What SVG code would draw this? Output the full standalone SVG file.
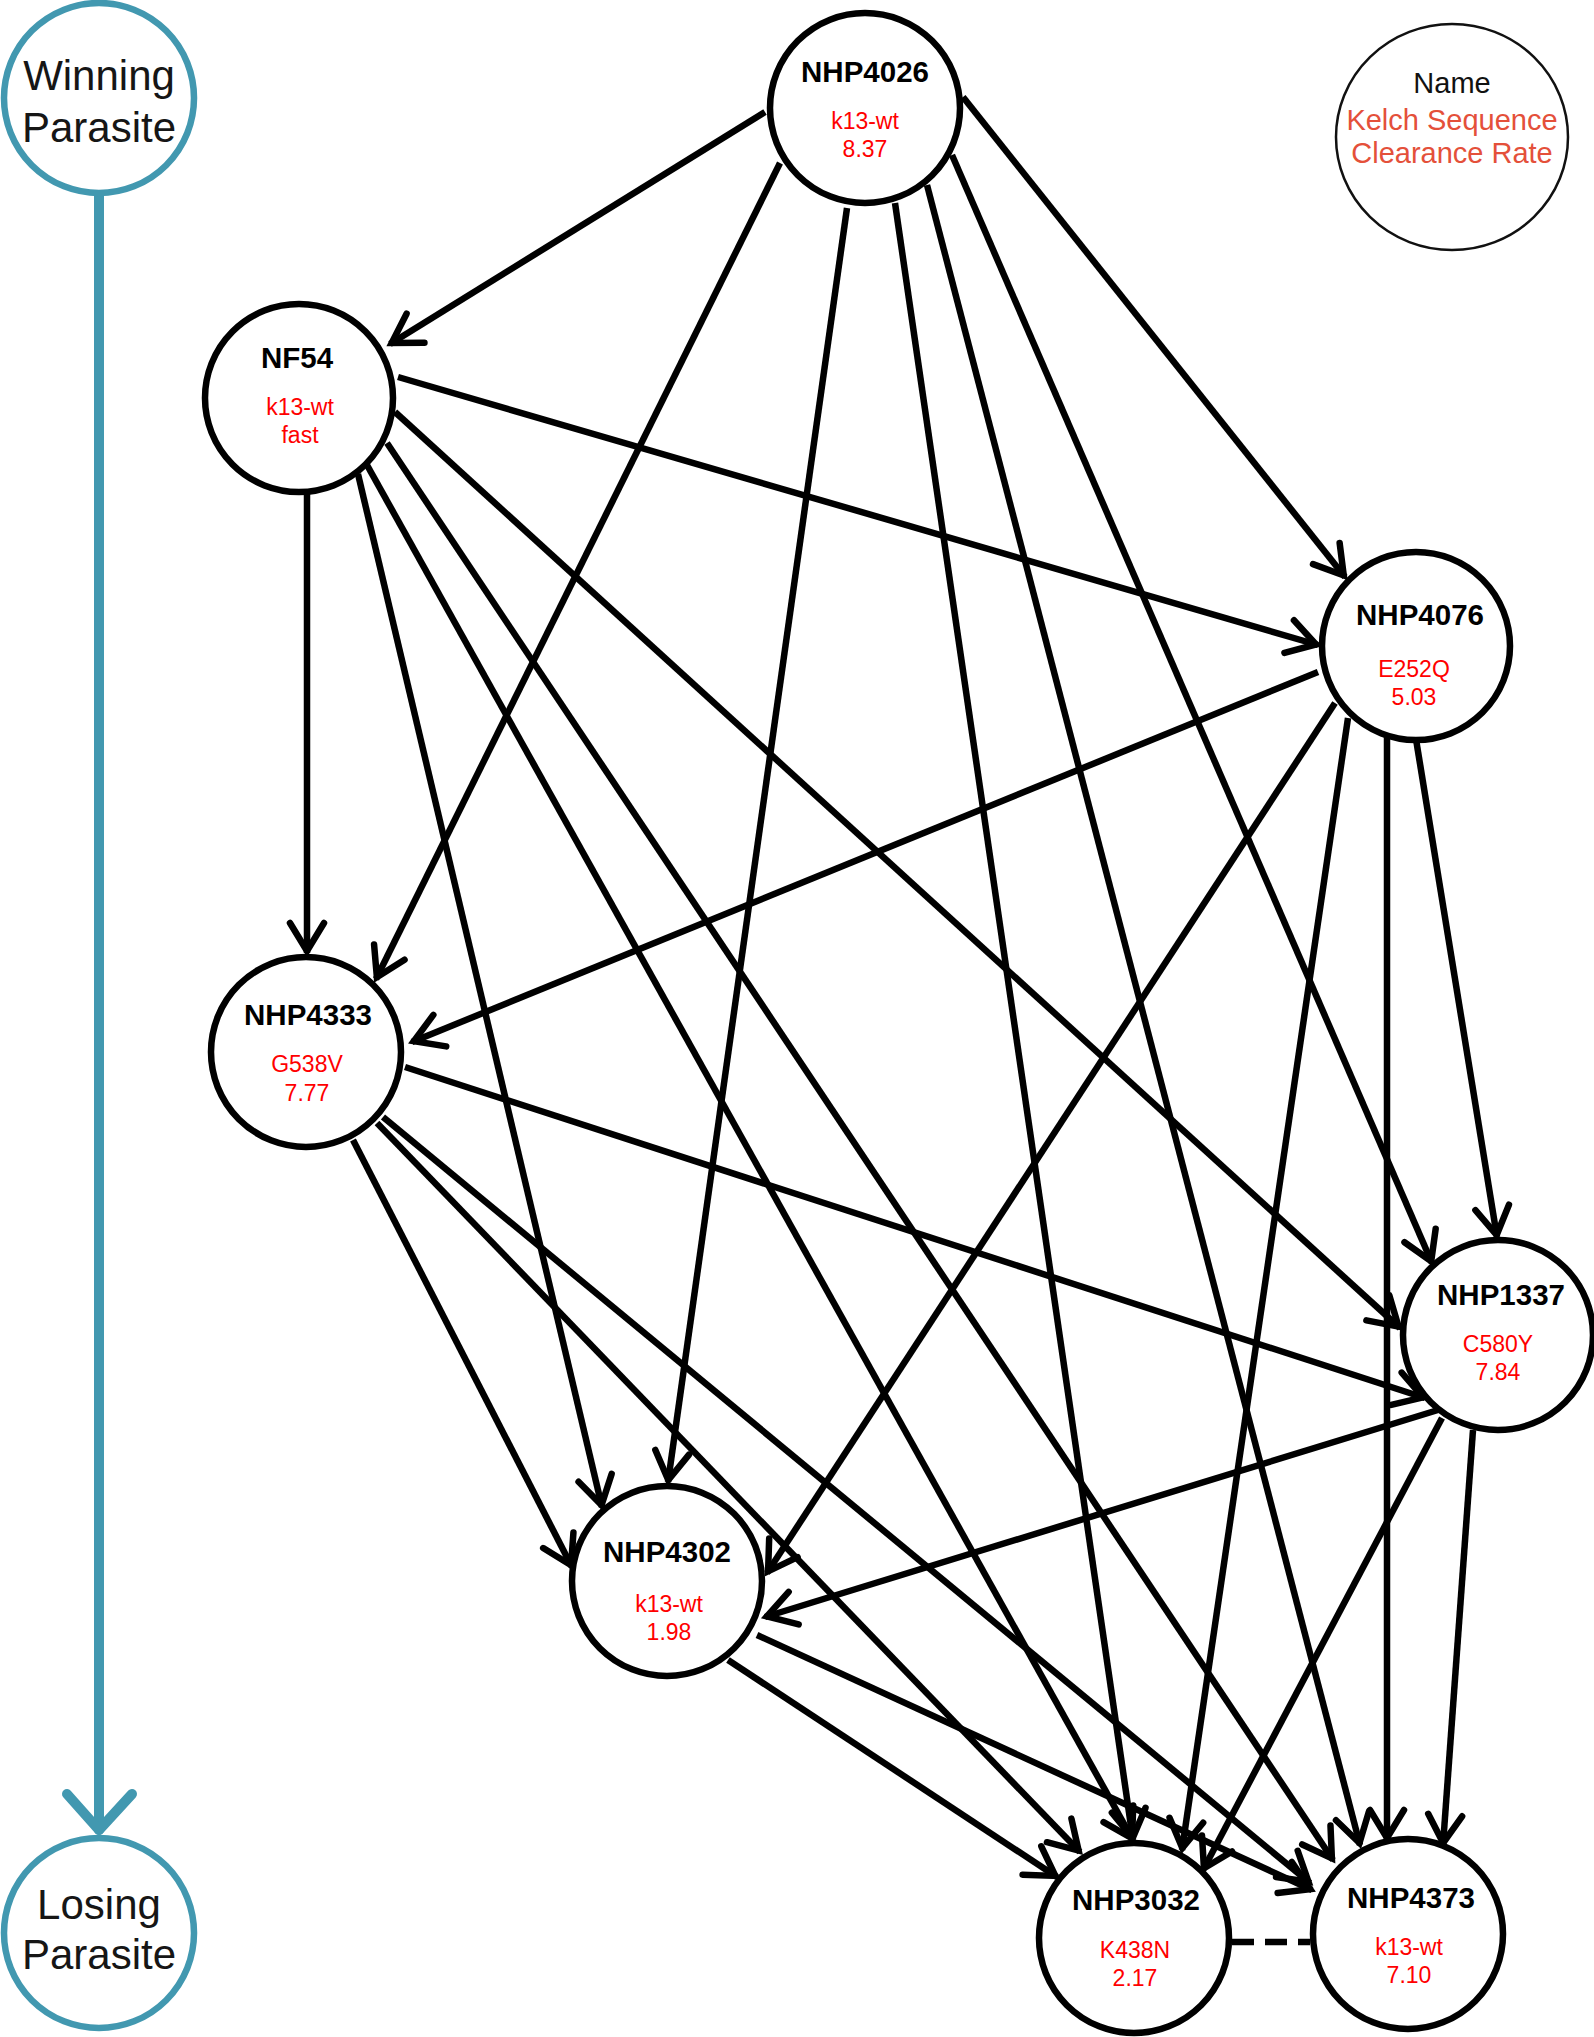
<svg xmlns="http://www.w3.org/2000/svg" width="1594" height="2037" viewBox="0 0 1594 2037">
<style>
.bg{fill:#ffffff}
.node{fill:#ffffff;stroke:#000000;stroke-width:6.5}
.tnode{fill:#ffffff;stroke:#4298b0;stroke-width:6.5}
.leg{fill:#ffffff;stroke:#111111;stroke-width:2.5}
.name{font-family:"Liberation Sans",Arial,sans-serif;font-weight:bold;font-size:29.5px;fill:#000000;text-anchor:middle}
.info{font-family:"Liberation Sans",Arial,sans-serif;font-size:23px;fill:#ff0000;text-anchor:middle}
.big{font-family:"Liberation Sans",Arial,sans-serif;font-size:42px;fill:#161616;text-anchor:middle}
.legn{font-family:"Liberation Sans",Arial,sans-serif;font-size:29px;fill:#111111;text-anchor:middle}
.legr{font-family:"Liberation Sans",Arial,sans-serif;font-size:29px;fill:#e4503a;text-anchor:middle}
.edge{stroke:#000000;stroke-width:6.5;fill:none;marker-end:url(#arr)}
.dash{stroke:#000000;stroke-width:6.5;fill:none;stroke-dasharray:22 11}
.teal{stroke:#4298b0;stroke-width:10;fill:none;stroke-linecap:round;stroke-linejoin:round}
</style>
<defs>
<marker id="arr" markerUnits="userSpaceOnUse" markerWidth="70" markerHeight="70" refX="0" refY="0" viewBox="-45 -35 70 70" orient="auto" overflow="visible">
<path d="M-30,-17 L-2,0 L-30,17" fill="none" stroke="#000000" stroke-width="6.5" stroke-linecap="round" stroke-linejoin="miter"/>
</marker>
</defs>
<rect class="bg" x="0" y="0" width="1594" height="2037"/>
<g id="scale">
<path class="teal" d="M99,196 L99,1830"/>
<path class="teal" d="M67,1794 L99,1830 L132,1794"/>
</g>
<g id="connectors">
<line class="edge" x1="765" y1="112" x2="390" y2="344"/>
<line class="edge" x1="780" y1="163" x2="376" y2="979"/>
<line class="edge" x1="847" y1="208" x2="668" y2="1482"/>
<line class="edge" x1="895" y1="203" x2="1133" y2="1840"/>
<line class="edge" x1="927" y1="185" x2="1360" y2="1845"/>
<line class="edge" x1="952" y1="155" x2="1432" y2="1263"/>
<line class="edge" x1="963" y1="97" x2="1345" y2="577"/>
<line class="edge" x1="398" y1="377" x2="1318" y2="645"/>
<line class="edge" x1="307" y1="492" x2="307" y2="953"/>
<line class="edge" x1="358" y1="474" x2="602" y2="1507"/>
<line class="edge" x1="367" y1="465" x2="1133" y2="1840"/>
<line class="edge" x1="387" y1="443" x2="1333" y2="1860"/>
<line class="edge" x1="395" y1="412" x2="1400" y2="1328"/>
<line class="edge" x1="353" y1="1140" x2="572" y2="1567"/>
<line class="edge" x1="405" y1="1067" x2="1425" y2="1398"/>
<line class="edge" x1="377" y1="1123" x2="1080" y2="1852"/>
<line class="edge" x1="383" y1="1117" x2="1310" y2="1883"/>
<line class="edge" x1="1318" y1="672" x2="412" y2="1042"/>
<line class="edge" x1="1335" y1="703" x2="767" y2="1573"/>
<line class="edge" x1="1348" y1="718" x2="1182" y2="1850"/>
<line class="edge" x1="1387" y1="737" x2="1387" y2="1840"/>
<line class="edge" x1="1415" y1="733" x2="1497" y2="1237"/>
<line class="edge" x1="1438" y1="1410" x2="765" y2="1617"/>
<line class="edge" x1="1442" y1="1418" x2="1203" y2="1870"/>
<line class="edge" x1="1473" y1="1430" x2="1443" y2="1845"/>
<line class="edge" x1="728" y1="1660" x2="1057" y2="1877"/>
<line class="edge" x1="757" y1="1635" x2="1312" y2="1890"/>
<line class="dash" x1="1232" y1="1942" x2="1310" y2="1942"/>
</g>
<g id="winning">
<circle class="tnode" cx="99" cy="98" r="95"/>
<text class="big" x="99" y="90">Winning</text>
<text class="big" x="99" y="142">Parasite</text>
</g>
<g id="losing">
<circle class="tnode" cx="99" cy="1933" r="95"/>
<text class="big" x="99" y="1919">Losing</text>
<text class="big" x="99" y="1969">Parasite</text>
</g>
<g id="legend">
<ellipse class="leg" cx="1452" cy="137" rx="116" ry="113"/>
<text class="legn" x="1452" y="93">Name</text>
<text class="legr" x="1452" y="130">Kelch Sequence</text>
<text class="legr" x="1452" y="163">Clearance Rate</text>
</g>
<g id="NHP4026">
<circle class="node" cx="865" cy="108" r="95"/>
<text class="name" x="865" y="82">NHP4026</text>
<text class="info" x="865" y="129">k13-wt</text>
<text class="info" x="865" y="157">8.37</text>
</g>
<g id="NF54">
<circle class="node" cx="299" cy="398" r="94"/>
<text class="name" x="297" y="368">NF54</text>
<text class="info" x="300" y="415">k13-wt</text>
<text class="info" x="300" y="443">fast</text>
</g>
<g id="NHP4076">
<circle class="node" cx="1416" cy="646" r="94"/>
<text class="name" x="1420" y="625">NHP4076</text>
<text class="info" x="1414" y="677">E252Q</text>
<text class="info" x="1414" y="705">5.03</text>
</g>
<g id="NHP4333">
<circle class="node" cx="306" cy="1052" r="95"/>
<text class="name" x="308" y="1025">NHP4333</text>
<text class="info" x="307" y="1072">G538V</text>
<text class="info" x="307" y="1101">7.77</text>
</g>
<g id="NHP1337">
<circle class="node" cx="1498" cy="1335" r="95"/>
<text class="name" x="1501" y="1305">NHP1337</text>
<text class="info" x="1498" y="1352">C580Y</text>
<text class="info" x="1498" y="1380">7.84</text>
</g>
<g id="NHP4302">
<circle class="node" cx="667" cy="1581" r="95"/>
<text class="name" x="667" y="1562">NHP4302</text>
<text class="info" x="669" y="1612">k13-wt</text>
<text class="info" x="669" y="1640">1.98</text>
</g>
<g id="NHP3032">
<circle class="node" cx="1134" cy="1938" r="95"/>
<text class="name" x="1136" y="1910">NHP3032</text>
<text class="info" x="1135" y="1958">K438N</text>
<text class="info" x="1135" y="1986">2.17</text>
</g>
<g id="NHP4373">
<circle class="node" cx="1408" cy="1934" r="95"/>
<text class="name" x="1411" y="1908">NHP4373</text>
<text class="info" x="1409" y="1955">k13-wt</text>
<text class="info" x="1409" y="1983">7.10</text>
</g>
</svg>
